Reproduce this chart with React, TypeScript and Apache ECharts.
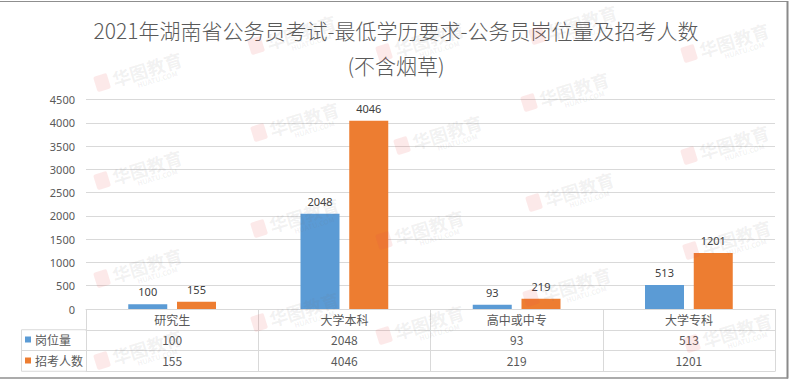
import React, { useEffect, useRef } from "react";
import * as echarts from "echarts";

const categories = ["研究生", "大学本科", "高中或中专", "大学专科"];
const seriesNames = ["岗位量", "招考人数"];
const posts = [100, 2048, 93, 513];
const applicants = [155, 4046, 219, 1201];
const yMin = 0;
const yMax = 4500;
const yInterval = 500;
const titleText = "2021年湖南省公务员考试-最低学历要求-公务员岗位量及招考人数\n(不含烟草)";
const watermarkText = "华图教育";
const watermarkSub = "HUATU.COM";

const FONT = "'Noto Sans CJK SC', 'Noto Sans', sans-serif";
const GRID_LINE = "#d9d9d9";
const TEXT = "#595959";

const watermarkSpots: [number, number][] = [
  [93, 77], [93, 175], [93, 273], [93, 355],
  [247, 40], [250, 127], [250, 223], [250, 317],
  [375, 47], [393, 140], [375, 235], [375, 330],
  [528, 30], [520, 97], [525, 197], [522, 292],
  [680, 48], [680, 150], [682, 245], [683, 338],
];

function makeWatermark(x: number, y: number) {
  return {
    type: "group",
    x,
    y,
    rotation: 0.3,
    z: 100,
    silent: true,
    children: [
      {
        type: "rect",
        shape: { x: 0, y: 0, width: 14, height: 16, r: 2 },
        style: { fill: "rgba(230,70,70,0.12)" },
        z: 100,
      },
      {
        type: "text",
        x: 18,
        y: 8,
        style: {
          text: watermarkText,
          fontSize: 18,
          fontWeight: "bold",
          fontFamily: FONT,
          fill: "rgba(120,120,120,0.10)",
          verticalAlign: "middle",
        },
        z: 100,
      },
      {
        type: "text",
        x: 40,
        y: 21,
        style: {
          text: watermarkSub,
          fontSize: 7,
          fontWeight: "bold",
          fontFamily: FONT,
          fill: "rgba(120,120,120,0.10)",
          verticalAlign: "middle",
        },
        z: 100,
      },
    ],
  };
}

export default function App() {
  const ref = useRef<HTMLDivElement>(null);

  useEffect(() => {
    if (!ref.current) return;
    const chart = echarts.init(ref.current, undefined, { renderer: "svg" });

    const gridLeft = 86;
    const gridRight = 17;
    const gridTop = 99.5;
    const gridBottom = 72;
    const rowH = 20.75;

    const tableAxisBase = {
      type: "category" as const,
      data: categories,
      position: "bottom" as const,
      axisLine: { show: true, lineStyle: { color: GRID_LINE, width: 1 } },
      axisTick: { show: false },
      splitLine: { show: false },
    };

    const option: any = {
      animation: false,
      backgroundColor: "#ffffff",
      title: {
        text: titleText,
        left: "center",
        top: 12.5,
        padding: 0,
        textStyle: {
          fontSize: 21,
          lineHeight: 35,
          color: TEXT,
          fontWeight: 300,
          fontFamily: FONT,
        },
      },
      legend: {
        orient: "vertical",
        left: 25,
        top: 332.5,
        itemWidth: 6,
        itemHeight: 6,
        itemGap: 7,
        icon: "rect",
        padding: 0,
        data: seriesNames,
        textStyle: {
          fontSize: 12,
          lineHeight: 14,
          color: TEXT,
          fontFamily: FONT,
          padding: [0, 0, 0, -1],
        },
      },
      grid: {
        left: gridLeft,
        right: gridRight,
        top: gridTop,
        bottom: gridBottom,
        containLabel: false,
      },
      xAxis: [
        {
          ...tableAxisBase,
          offset: 0,
          axisTick: {
            show: true,
            inside: false,
            length: rowH * 3,
            alignWithLabel: false,
            interval: 0,
            lineStyle: { color: GRID_LINE },
          },
          axisLabel: {
            margin: 4,
            fontSize: 12,
            color: TEXT,
            fontFamily: FONT,
            interval: 0,
          },
        },
        {
          ...tableAxisBase,
          offset: rowH,
          axisLabel: {
            margin: 4,
            fontSize: 12,
            color: TEXT,
            fontFamily: FONT,
            interval: 0,
            formatter: (_v: string, i: number) => String(posts[i]),
          },
        },
        {
          ...tableAxisBase,
          offset: rowH * 2,
          axisLabel: {
            margin: 4,
            fontSize: 12,
            color: TEXT,
            fontFamily: FONT,
            interval: 0,
            formatter: (_v: string, i: number) => String(applicants[i]),
          },
        },
        {
          ...tableAxisBase,
          offset: rowH * 3,
          axisLabel: { show: false },
        },
      ],
      yAxis: {
        type: "value",
        min: yMin,
        max: yMax,
        interval: yInterval,
        axisLine: { show: false },
        axisTick: { show: false },
        splitLine: { lineStyle: { color: GRID_LINE, width: 1 } },
        axisLabel: {
          margin: 11,
          fontSize: 11,
          color: TEXT,
          fontFamily: "'Noto Sans', sans-serif",
          formatter: (v: number) => String(v),
        },
      },
      series: [
        {
          name: seriesNames[0],
          type: "bar",
          xAxisIndex: 0,
          data: posts,
          barWidth: 39,
          barGap: "25%",
          itemStyle: { color: "#5B9BD5" },
          label: {
            show: true,
            position: "top",
            distance: 7,
            fontSize: 11,
            color: "#404040",
            fontFamily: "'Noto Sans', sans-serif",
          },
        },
        {
          name: seriesNames[1],
          type: "bar",
          xAxisIndex: 0,
          data: applicants,
          barWidth: 39,
          barGap: "25%",
          itemStyle: { color: "#ED7D31" },
          label: {
            show: true,
            position: "top",
            distance: 7,
            fontSize: 11,
            color: "#404040",
            fontFamily: "'Noto Sans', sans-serif",
          },
        },
      ],
      graphic: [
        {
          type: "line",
          shape: { x1: 21.5, y1: 309 + rowH, x2: gridLeft, y2: 309 + rowH },
          style: { stroke: GRID_LINE, lineWidth: 1 },
        },
        {
          type: "line",
          shape: { x1: 21.5, y1: 309 + rowH * 2, x2: gridLeft, y2: 309 + rowH * 2 },
          style: { stroke: GRID_LINE, lineWidth: 1 },
        },
        {
          type: "line",
          shape: { x1: 21.5, y1: 309 + rowH * 3, x2: gridLeft, y2: 309 + rowH * 3 },
          style: { stroke: GRID_LINE, lineWidth: 1 },
        },
        {
          type: "line",
          shape: { x1: 21.5, y1: 309 + rowH, x2: 21.5, y2: 309 + rowH * 3 },
          style: { stroke: GRID_LINE, lineWidth: 1 },
        },
        {
          type: "line",
          shape: { x1: 0, y1: 1.5, x2: 788, y2: 1.5 },
          style: { stroke: "#8f8f8f", lineWidth: 1 },
        },
        {
          type: "line",
          shape: { x1: 787.5, y1: 1, x2: 787.5, y2: 378.5 },
          style: { stroke: "#8a8a8a", lineWidth: 2 },
        },
        {
          type: "line",
          shape: { x1: 0, y1: 378, x2: 788, y2: 378 },
          style: { stroke: "#8f8f8f", lineWidth: 1.5 },
        },
        ...watermarkSpots.map(([x, y]) => makeWatermark(x, y)),
      ],
    };

    chart.setOption(option);
    return () => chart.dispose();
  }, []);

  return (
    <div
      ref={ref}
      style={{ position: "absolute", left: 0, top: 0, width: 792, height: 381 }}
    />
  );
}
